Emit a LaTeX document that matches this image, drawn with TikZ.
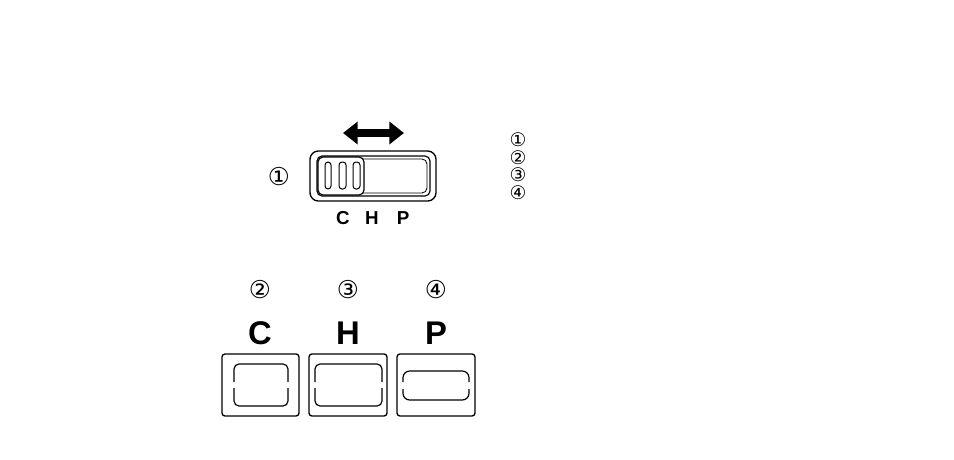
\documentclass[tikz,border=0pt]{standalone}
\usepackage{fontspec}
\setmainfont{Liberation Sans}
\newfontfamily\circfont{DejaVu Sans}
\usetikzlibrary{arrows.meta}
\tikzset{>=stealth,
  panel/.style={line width=0.4mm,rounded corners=0.9mm},
  rim/.style={line width=0.35mm,rounded corners=1.5mm},
  bignum/.style={font=\circfont\fontsize{21}{21}\selectfont,inner sep=0pt},
  smallnum/.style={font=\circfont\fontsize{16}{16}\selectfont,inner sep=0pt},
  biglet/.style={font=\bfseries\fontsize{28}{28}\selectfont,inner sep=0pt},
  smalllet/.style={font=\bfseries\fontsize{16}{16}\selectfont,inner sep=0pt}}
\begin{document}
\begin{tikzpicture}[x=0.3mm,y=-0.3mm]
    \useasboundingbox (0,0) rectangle (954,459);
    \coordinate (arrowl) at (343,133);
    \coordinate (arrowr) at (404,133);
    \draw[line width=2.6mm,{Triangle[length=4.4mm,width=6.6mm]}-{Triangle[length=4.4mm,width=6.6mm]}] (arrowl)--(arrowr);

    \draw[panel,rounded corners=2.5mm] (310,151) rectangle (436,201);
    \draw[rim] (317,156) rectangle (430,196);
    \draw[rim,line width=0.25mm] (320,159) rectangle (427,193);
    \draw[rim,fill=white] (318,157) rectangle (364,195);
    \foreach \xa/\xb in {325/331,339/346,353/360}
      \draw[line width=0.3mm,rounded corners=0.9mm] (\xa,162) rectangle (\xb,189);

    \node[bignum] (one) at (279,177) {①};
    \node[smalllet] (cs) at (343,218) {C};
    \node[smalllet] (hs) at (372,218) {H};
    \node[smalllet] (ps) at (403,218) {P};

    \node[smallnum] (l1) at (518,140) {①};
    \node[smallnum] (l2) at (518,157.5) {②};
    \node[smallnum] (l3) at (518,175) {③};
    \node[smallnum] (l4) at (518,193) {④};

    \node[bignum] (n2) at (260,290) {②};
    \node[bignum] (n3) at (348,290) {③};
    \node[bignum] (n4) at (436,290) {④};
    \node[biglet] (cb) at (260,333) {C};
    \node[biglet] (hb) at (348,333) {H};
    \node[biglet] (pb) at (436,333) {P};

    \draw[panel] (222,354) rectangle (299,416);
    \draw[panel] (309,354) rectangle (387,416);
    \draw[panel] (397,354) rectangle (475,416);

    \draw[rim] (234,382)--(234,364)--(288,364)--(288,382);
    \draw[rim] (234,388)--(234,406)--(288,406)--(288,388);
    \draw[rim] (315,382)--(315,364)--(382,364)--(382,382);
    \draw[rim] (315,388)--(315,406)--(382,406)--(382,388);
    \draw[rim,rounded corners=2mm] (403,382)--(403,371)--(469,371)--(469,382);
    \draw[rim,rounded corners=2mm] (403,389)--(403,400)--(469,400)--(469,389);
\end{tikzpicture}
\end{document}
